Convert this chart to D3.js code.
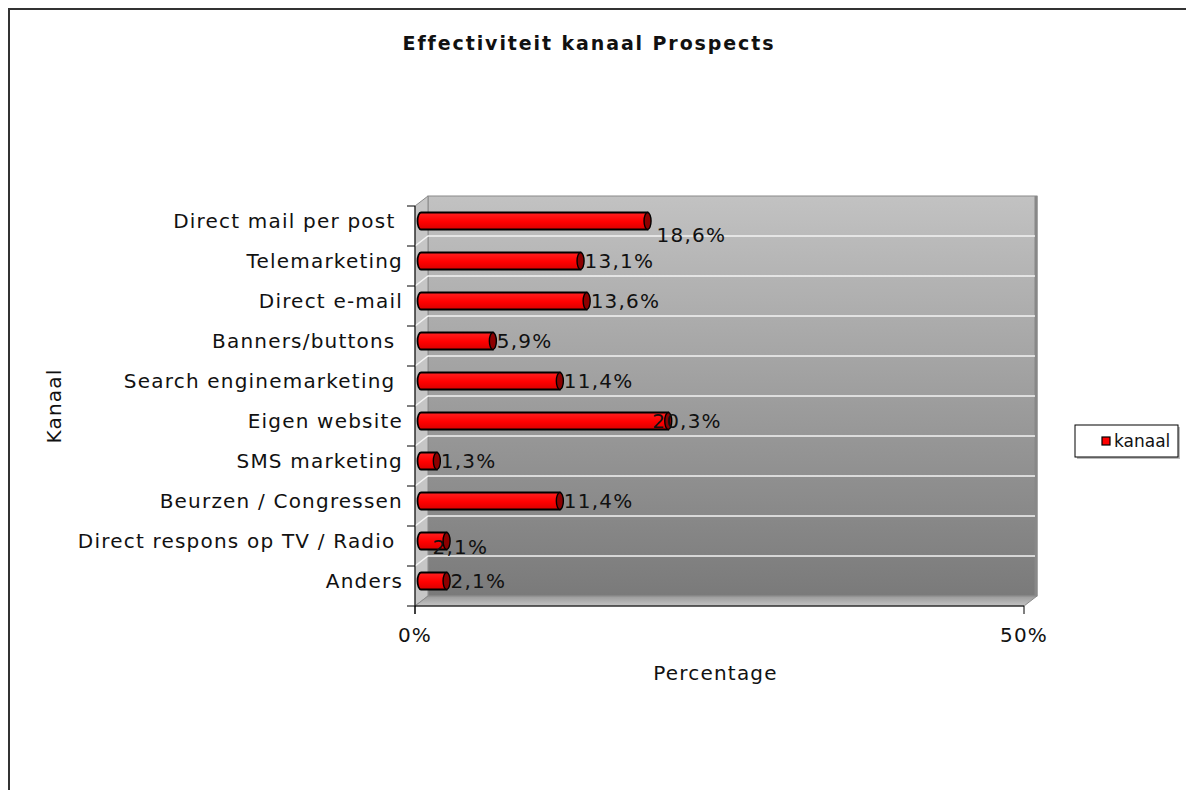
<!DOCTYPE html>
<html>
<head>
<meta charset="utf-8">
<script src="https://cdn.jsdelivr.net/npm/d3@7"></script>
<style>
  body { margin: 0; background: #fff; }
  #chart { width: 1186px; height: 790px; }
  text { font-family: "DejaVu Sans", Verdana, sans-serif; }
</style>
</head>
<body>
<div id="chart"></div>
<script>
// data
const categories = ["Direct mail per post ", "Telemarketing", "Direct e-mail", "Banners/buttons ",
  "Search enginemarketing ", "Eigen website", "SMS marketing", "Beurzen / Congressen",
  "Direct respons op TV / Radio ", "Anders"];
const values = [18.6, 13.1, 13.6, 5.9, 11.4, 20.3, 1.3, 11.4, 2.1, 2.1];
const xTicks = [0, 50];
const seriesName = "kanaal";

const data = categories.map((c, i) => ({ cat: c, value: values[i] }));

const width = 1186, height = 790;
const svg = d3.select("#chart").append("svg")
    .attr("width", width)
    .attr("height", height);

// outer frame (only top and left edge visible)
svg.append("path")
    .attr("d", "M9,790 V9 H1186")
    .attr("fill", "none")
    .attr("stroke", "#333")
    .attr("stroke-width", 2);

// plot frame, 3D depth offset
const dx = 13, dy = -10;
const x = d3.scaleLinear().domain([0, 50]).range([415, 1024]);
const y = d3.scaleBand().domain(categories).range([206, 606]);
const x0 = x(0), x1 = x(50), yTop = 206, yBot = 606;

const defs = svg.append("defs");
const wallGrad = defs.append("linearGradient").attr("id", "wall")
    .attr("x1", 0).attr("y1", 0).attr("x2", 0).attr("y2", 1);
wallGrad.append("stop").attr("offset", "0%").attr("stop-color", "#c2c2c2");
wallGrad.append("stop").attr("offset", "100%").attr("stop-color", "#7a7a7a");

const floorGrad = defs.append("linearGradient").attr("id", "floor")
    .attr("x1", 0).attr("y1", 0).attr("x2", 0).attr("y2", 1);
floorGrad.append("stop").attr("offset", "0%").attr("stop-color", "#9a9a9a");
floorGrad.append("stop").attr("offset", "100%").attr("stop-color", "#c4c4c4");

const barGrad = defs.append("linearGradient").attr("id", "bar")
    .attr("x1", 0).attr("y1", 0).attr("x2", 0).attr("y2", 1);
barGrad.append("stop").attr("offset", "0%").attr("stop-color", "#ff2020");
barGrad.append("stop").attr("offset", "55%").attr("stop-color", "#ff0000");
barGrad.append("stop").attr("offset", "100%").attr("stop-color", "#d80000");

const g = svg.append("g");

// back wall
g.append("rect")
    .attr("x", x0 + dx).attr("y", yTop + dy)
    .attr("width", x1 - x0).attr("height", yBot - yTop)
    .attr("fill", "url(#wall)")
    .attr("stroke", "#8a8a8a").attr("stroke-width", 1);
g.append("line")
    .attr("x1", x1 + dx - 1).attr("x2", x1 + dx - 1)
    .attr("y1", yTop + dy).attr("y2", yBot + dy)
    .attr("stroke", "#888").attr("stroke-width", 3);

// left side wall
g.append("path")
    .attr("d", `M${x0},${yTop} L${x0 + dx},${yTop + dy} L${x0 + dx},${yBot + dy} L${x0},${yBot} Z`)
    .attr("fill", "#c6c6c6")
    .attr("stroke", "#8a8a8a");

// floor
g.append("path")
    .attr("d", `M${x0},${yBot} L${x0 + dx},${yBot + dy} L${x1 + dx},${yBot + dy} L${x1},${yBot} Z`)
    .attr("fill", "url(#floor)")
    .attr("stroke", "#8a8a8a");

// gridlines between categories
const bounds = categories.slice(1).map(c => y(c));
g.append("g").selectAll("path")
    .data(bounds)
    .join("path")
    .attr("d", b => `M${x0},${b} L${x0 + dx},${b + dy} H${x1 + dx - 2}`)
    .attr("fill", "none")
    .attr("stroke", "#f4f4f4")
    .attr("stroke-width", 1.5);

// axes
const axes = g.append("g").attr("stroke", "#000").attr("stroke-width", 1);
axes.append("line").attr("x1", x0).attr("x2", x0).attr("y1", yTop).attr("y2", yBot + 8);
axes.append("line").attr("x1", x0 - 8).attr("x2", x1).attr("y1", yBot).attr("y2", yBot);
axes.selectAll(".ytick")
    .data([yTop].concat(bounds))
    .join("line")
    .attr("x1", x0 - 8).attr("x2", x0)
    .attr("y1", d => d).attr("y2", d => d);
axes.selectAll(".xtick")
    .data(xTicks)
    .join("line")
    .attr("x1", d => x(d)).attr("x2", d => x(d))
    .attr("y1", yBot).attr("y2", yBot + 8);

// bars (cylinder look), placed at mid depth
const bh = 17, rx = 3.5;
const my = dy / 2;
const bars = g.append("g").selectAll("g")
    .data(data)
    .join("g")
    .attr("transform", d => `translate(${x0 + 6},${y(d.cat) + y.bandwidth() / 2 + my - bh / 2})`);

bars.append("path")
    .attr("d", d => {
      const w = x(d.value) - x0;
      return `M0,0 H${w} V${bh} H0 A${rx},${bh / 2} 0 0 1 0,0 Z`;
    })
    .attr("fill", "url(#bar)")
    .attr("stroke", "#000")
    .attr("stroke-width", 1.8);

bars.append("ellipse")
    .attr("cx", d => x(d.value) - x0)
    .attr("cy", bh / 2)
    .attr("rx", rx)
    .attr("ry", bh / 2)
    .attr("fill", "#8c0000")
    .attr("stroke", "#000")
    .attr("stroke-width", 1.4);

// value labels (Excel shifted a few of them to avoid collisions)
const fmt = v => d3.format(".1f")(v).replace(".", ",") + "%";
const nudgeX = i => (i === 0 ? 5 : 0) + (i === 5 ? -20 : 0) + (i === 8 ? -18 : 0);
const nudgeY = i => (i === 0 ? 14 : 0) + (i === 8 ? 6 : 0);
g.append("g").selectAll("text")
    .data(data)
    .join("text")
    .attr("x", (d, i) => x(d.value) + 10 + nudgeX(i))
    .attr("y", (d, i) => y(d.cat) + y.bandwidth() / 2 + my + 7 + nudgeY(i))
    .attr("font-size", 20)
    .attr("letter-spacing", 1.2)
    .attr("fill", "#111")
    .text(d => fmt(d.value));

// category labels
g.append("g").selectAll("text")
    .data(categories)
    .join("text")
    .attr("x", x0 - 12)
    .attr("y", d => y(d) + y.bandwidth() / 2 + 2)
    .attr("text-anchor", "end")
    .attr("font-size", 20)
    .attr("letter-spacing", 1.2)
    .attr("fill", "#111")
    .style("white-space", "pre")
    .text(d => d);

// x tick labels
g.append("g").selectAll("text")
    .data(xTicks)
    .join("text")
    .attr("x", d => x(d))
    .attr("y", yBot + 36)
    .attr("text-anchor", "middle")
    .attr("font-size", 20)
    .attr("letter-spacing", 1.2)
    .attr("fill", "#111")
    .text(d => d + "%");

// titles
svg.append("text")
    .attr("x", 589).attr("y", 50)
    .attr("text-anchor", "middle")
    .attr("font-size", 19)
    .attr("letter-spacing", 1.9)
    .attr("font-weight", "bold")
    .attr("fill", "#111")
    .text("Effectiviteit kanaal Prospects");

svg.append("text")
    .attr("x", x(25) - 4).attr("y", 680)
    .attr("text-anchor", "middle")
    .attr("font-size", 20)
    .attr("letter-spacing", 1.2)
    .attr("fill", "#111")
    .text("Percentage");

svg.append("text")
    .attr("transform", `translate(61,${(yTop + yBot) / 2}) rotate(-90)`)
    .attr("text-anchor", "middle")
    .attr("font-size", 20)
    .attr("letter-spacing", 1.2)
    .attr("fill", "#111")
    .text("Kanaal");

// legend
const lg = svg.append("g").attr("transform", "translate(1075,425)");
lg.append("rect")
    .attr("x", 2).attr("y", 2).attr("width", 103).attr("height", 32)
    .attr("fill", "#bbb");
lg.append("rect")
    .attr("width", 103).attr("height", 32)
    .attr("fill", "#fff").attr("stroke", "#000");
lg.append("rect")
    .attr("x", 27).attr("y", 12).attr("width", 8).attr("height", 8)
    .attr("fill", "#ff0000").attr("stroke", "#000").attr("stroke-width", 1.2);
lg.append("text")
    .attr("x", 39).attr("y", 22)
    .attr("font-family", "'Liberation Sans', Arial, sans-serif")
    .attr("font-size", 17)
    .attr("fill", "#111")
    .text(seriesName);
</script>
</body>
</html>
